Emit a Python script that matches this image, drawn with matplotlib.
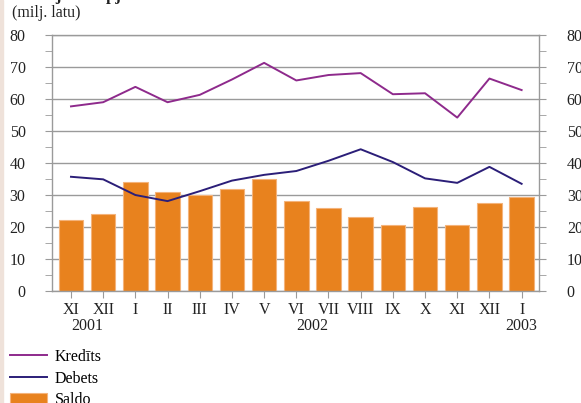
import matplotlib
matplotlib.use("Agg")
import matplotlib.pyplot as plt
import numpy as np
from matplotlib.ticker import MultipleLocator

plt.rcParams['font.family'] = ['Liberation Serif', 'DejaVu Serif']

months = ["XI", "XII", "I", "II", "III", "IV", "V", "VI", "VII", "VIII", "IX", "X", "XI", "XII", "I"]
years = ["2001", "2002", "2003"]
kredits = [57.6, 58.9, 63.7, 58.9, 61.2, 66.0, 71.2, 65.7, 67.4, 68.0, 61.4, 61.7, 54.1, 66.3, 62.7]
debets = [35.6, 34.8, 29.9, 28.0, 31.1, 34.4, 36.2, 37.4, 40.6, 44.2, 40.2, 35.1, 33.7, 38.7, 33.4]
saldo = [22.0, 24.0, 33.9, 30.7, 29.9, 31.7, 34.8, 28.0, 25.9, 23.0, 20.5, 26.2, 20.5, 27.5, 29.3]

W, H = 581, 403
fig = plt.figure(figsize=(W / 100, H / 100), dpi=100)
fig.patch.set_facecolor('white')
fig.patches.append(plt.Rectangle((0, 0), 3 / W, 1, transform=fig.transFigure,
                                 color='#efe2da', zorder=0))

ax = fig.add_axes([52 / W, 1 - 290.7 / H, (539 - 52) / W, (290.7 - 34.7) / H])
x = np.arange(len(months))
gray = '#9a9a9a'

l1, = ax.plot(x, kredits, color='#8e2a8c', lw=1.4, zorder=3)
l2, = ax.plot(x, debets, color='#2b1e78', lw=1.4, zorder=3)
b = ax.bar(x, saldo, width=0.76, color='#e8821e', edgecolor='#f4b37a', linewidth=0.8,
           zorder=2)

ax.set_xlim(-0.59, 14.54)
ax.set_ylim(0, 80)
ax.yaxis.set_minor_locator(MultipleLocator(5))
ax.grid(axis='y', which='major', color=gray, lw=1, zorder=1)
ax.set_axisbelow(True)
for s in ax.spines.values():
    s.set_color(gray)
    s.set_linewidth(1)

ax.set_xticks(x)
ax.set_xticklabels(months, fontsize=11.5)
ax.tick_params(axis='x', direction='out', length=5, color=gray, pad=3, labelcolor='#222222')
ax.set_yticks(np.arange(0, 81, 10))
ax.set_yticklabels([str(v) for v in range(0, 81, 10)])
ax.tick_params(axis='y', which='both', direction='out', length=5, color=gray,
               labelsize=11.5, pad=14, labelcolor='#222222')

ax2 = ax.twinx()
ax2.set_ylim(0, 80)
ax2.set_yticks(np.arange(0, 81, 10))
ax2.set_yticklabels([str(v) for v in range(0, 81, 10)])
ax2.yaxis.set_minor_locator(MultipleLocator(5))
ax2.tick_params(axis='y', which='both', direction='out', length=5, color=gray,
                labelsize=11.5, pad=15, labelcolor='#222222')
for s in ax2.spines.values():
    s.set_visible(False)

# year labels
ytrans = ax.get_xaxis_transform()
for xi, yr in zip([0.5, 7.5, 14], years):
    ax.text(xi, -(326 - 290.7) / 256, yr, transform=ytrans, ha='center', va='center',
            fontsize=11.5, color='#222222')

fig.text(12 / W, 1 - 13 / H, "(milj. latu)", fontsize=11.5, ha='left', va='center', color='#222222')
fig.text(8 / W, 1 + 4 / H, "Maksājumu apjomi", fontsize=12, fontweight='bold',
         ha='left', va='center', color='#222222')

fig.legend([l1, l2, b], ["Kredīts", "Debets", "Saldo"],
           loc='upper left', bbox_to_anchor=(10 / W, 1 - 349 / H),
           frameon=False, fontsize=11.5, handlelength=2.3, handleheight=0.8,
           labelspacing=0.35, handletextpad=0.5, borderaxespad=0, borderpad=0)

fig.savefig('out.png', dpi=100)
